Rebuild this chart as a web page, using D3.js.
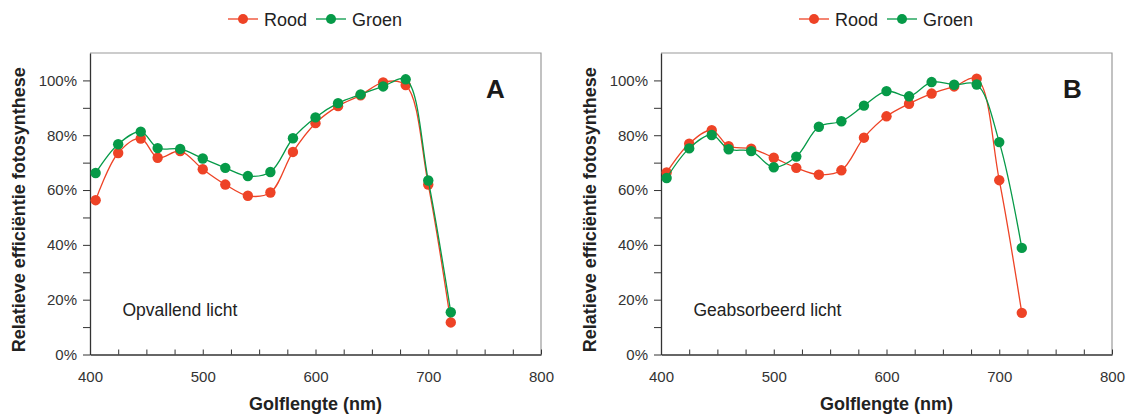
<!DOCTYPE html>
<html><head><meta charset="utf-8">
<script src="https://cdn.jsdelivr.net/npm/d3@7"></script>
<style>body{margin:0;background:#fff} svg{display:block;font-family:"Liberation Sans",Arial,Helvetica,sans-serif}</style>
</head><body><svg id="c" width="1129" height="416"></svg>
<script>
// ---- data ----
const wavelengths = [405,425,445,460,480,500,520,540,560,580,600,620,640,660,680,700,720];
const roodA  = [56.3,73.5,78.8,71.8,74.2,67.6,62.0,57.9,59.1,73.9,84.4,90.6,94.6,99.3,98.3,62.0,11.7];
const groenA = [66.2,76.7,81.3,75.3,75.0,71.5,68.1,65.1,66.6,78.9,86.5,91.7,94.9,97.8,100.4,63.5,15.4];
const roodB  = [66.4,76.9,81.8,76.0,75.1,71.8,68.1,65.6,67.2,79.1,86.9,91.5,95.2,97.8,100.6,63.6,15.2];
const groenB = [64.4,75.2,80.1,74.9,74.2,68.3,72.2,83.1,85.1,90.8,96.1,94.2,99.4,98.4,98.5,77.5,38.9];
const seriesNames = ["Rood","Groen"];
const xTickValues = [400,500,600,700,800];
const yTickValues = [0,20,40,60,80,100];
const panelLetters = ["A","B"];
const panelNotes = ["Opvallend licht","Geabsorbeerd licht"];
const yTitle = "Relatieve efficiëntie fotosynthese";
const xTitle = "Golflengte (nm)";

const colors = {Rood:"#ee4326", Groen:"#069a48"};
const svg = d3.select("#c");

const panels = [
  {left:90, right:541, rood:roodA, groen:groenA, letterX:495.5},
  {left:661, right:1112, rood:roodB, groen:groenB, letterX:1072.5}
];
const plotTop = 53, plotBottom = 354.5;

panels.forEach((p, i) => {
  const x = d3.scaleLinear().domain([400,800]).range([p.left, p.right]);
  const y = d3.scaleLinear().domain([0,110]).range([plotBottom, plotTop]);
  const g = svg.append("g");

  // frame top & right (light)
  g.append("path").attr("d", `M${p.left},${plotTop}H${p.right}V${plotBottom}`)
    .attr("fill","none").attr("stroke","#9a9a9a").attr("stroke-width",1.2);

  // x axis (inward ticks every 25nm)
  const xAxis = g.append("g").attr("transform",`translate(0,${plotBottom})`)
    .call(d3.axisBottom(x).tickValues(d3.range(400,801,25)).tickSize(-5).tickSizeOuter(0).tickFormat(""));
  xAxis.select(".domain").attr("stroke","#333").attr("stroke-width",1.3);
  xAxis.selectAll(".tick line").attr("stroke","#333");
  g.append("g").attr("transform",`translate(0,${plotBottom})`)
    .call(d3.axisBottom(x).tickValues(xTickValues).tickSize(0).tickPadding(17).tickFormat(d3.format("d")))
    .call(a => a.select(".domain").remove())
    .selectAll("text").attr("font-size",15).attr("fill","#333").attr("font-family","Liberation Sans, Arial, sans-serif");

  // y axis (outward ticks every 10%)
  const yAxis = g.append("g").attr("transform",`translate(${p.left},0)`)
    .call(d3.axisLeft(y).tickValues(d3.range(0,101,10)).tickSize(7).tickSizeOuter(0).tickFormat(""));
  yAxis.select(".domain").attr("stroke","#333").attr("stroke-width",1.3);
  yAxis.selectAll(".tick line").attr("stroke","#333");
  g.append("g").attr("transform",`translate(${p.left-7},0)`)
    .call(d3.axisLeft(y).tickValues(yTickValues).tickSize(0).tickPadding(6).tickFormat(d => d + "%"))
    .call(a => a.select(".domain").remove())
    .selectAll("text").attr("font-size",15).attr("fill","#333").attr("font-family","Liberation Sans, Arial, sans-serif");

  // titles
  g.append("text").attr("transform",`translate(${p.left-70},${(plotTop+plotBottom)/2+6}) rotate(-90)`)
    .attr("text-anchor","middle").attr("dominant-baseline","middle")
    .attr("font-size",18).attr("font-weight","bold").attr("fill","#222").text(yTitle);
  g.append("text").attr("x",(p.left+p.right)/2).attr("y",410)
    .attr("text-anchor","middle").attr("font-size",18).attr("font-weight","bold").attr("fill","#222").text(xTitle);

  // letter and note
  g.append("text").attr("x",p.letterX).attr("y",98).attr("text-anchor","middle")
    .attr("font-size",26).attr("font-weight","bold").attr("fill","#1a1a1a").text(panelLetters[i]);
  g.append("text").attr("x",p.left+32.5).attr("y",316).attr("font-size",17.5).attr("fill","#222").text(panelNotes[i]);

  // series
  const line = d3.line().x((d,j) => x(wavelengths[j])).y(d => y(d)).curve(d3.curveCatmullRom.alpha(0.5));
  [["Rood",p.rood],["Groen",p.groen]].forEach(([name, vals]) => {
    g.append("path").datum(vals).attr("d", line).attr("fill","none")
      .attr("stroke", colors[name]).attr("stroke-width",1.3);
    g.selectAll(null).data(vals).enter().append("circle")
      .attr("cx",(d,j) => x(wavelengths[j])).attr("cy", d => y(d)).attr("r",5.2)
      .attr("fill", colors[name]);
  });

  // legend
  const lg = g.append("g").attr("transform",`translate(${p.left+138},19)`);
  seriesNames.forEach((name, k) => {
    const ox = k === 0 ? 0 : 88;
    lg.append("line").attr("x1",ox).attr("x2",ox+30).attr("y1",0).attr("y2",0)
      .attr("stroke",colors[name]).attr("stroke-width",1.3);
    lg.append("circle").attr("cx",ox+15).attr("cy",0).attr("r",5).attr("fill",colors[name]);
    lg.append("text").attr("x",ox+36).attr("y",6.5).attr("font-size",18).attr("fill","#222").text(name);
  });
});
</script></body></html>
